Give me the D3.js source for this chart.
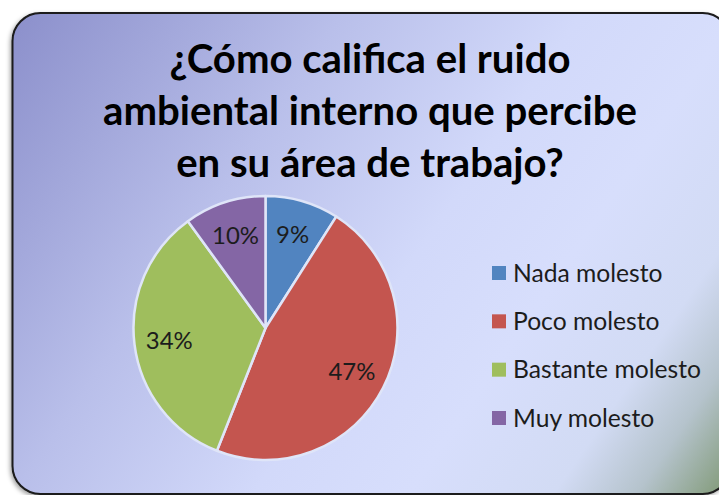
<!DOCTYPE html>
<html>
<head>
<meta charset="utf-8">
<script src="https://cdn.jsdelivr.net/npm/d3@7"></script>
<style>
  html, body { margin: 0; padding: 0; background: #fff; }
  svg { display: block; }
</style>
</head>
<body>
<svg id="chart" width="719" height="495"></svg>
<script>
// data
const categories = ["Nada molesto", "Poco molesto", "Bastante molesto", "Muy molesto"];
const values = [9, 47, 34, 10];
const colors = ["#5184c0", "#c4554f", "#9fbe5d", "#8466a5"];
const titleLines = ["¿Cómo califica el ruido", "ambiental interno que percibe", "en su área de trabajo?"];

const W = 719, H = 495;
const font = "Lato, 'Open Sans', sans-serif";
const svg = d3.select("#chart");

// fit a text's font size so it gets a given width
function fitText(sel, targetWidth) {
  let fs = parseFloat(sel.style("font-size"));
  let w = sel.node().getComputedTextLength();
  sel.style("font-size", (fs * targetWidth / w) + "px");
  return fs * targetWidth / w;
}

let defs = svg.append("defs");
let grad = defs.append("linearGradient")
  .attr("id", "bg")
  .attr("gradientUnits", "userSpaceOnUse")
  .attr("x1", 12).attr("y1", 12).attr("x2", 719).attr("y2", 495);
[[0, "#8b8fcb"], [0.32, "#b9bfea"], [0.55, "#d2d9fa"], [0.7, "#d7defc"], [0.84, "#d2dbf4"], [0.92, "#b5c3cc"], [1, "#849c7c"]]
  .forEach(s => grad.append("stop").attr("offset", s[0]).attr("stop-color", s[1]));

let shadow = defs.append("filter").attr("id", "shadow")
  .attr("x", "-5%").attr("y", "-5%").attr("width", "110%").attr("height", "110%");
shadow.append("feDropShadow")
  .attr("dx", -1.5).attr("dy", 2).attr("stdDeviation", 2)
  .attr("flood-color", "#000").attr("flood-opacity", 0.35);

// frame, its right side runs past the picture
svg.append("rect")
  .attr("x", 12.5).attr("y", 13)
  .attr("width", 718).attr("height", 481)
  .attr("rx", 28).attr("ry", 28)
  .attr("fill", "url(#bg)")
  .attr("stroke", "#1a1a1a")
  .attr("stroke-width", 2)
  .attr("filter", "url(#shadow)");

// title
let title = svg.append("g")
  .attr("font-family", font)
  .attr("font-weight", "bold")
  .attr("fill", "#000")
  .attr("text-anchor", "middle");
let titleY = d3.scalePoint().domain(d3.range(titleLines.length)).range([73, 177]);
let tl = title.selectAll("text").data(titleLines).join("text")
  .attr("x", 370)
  .attr("y", (d, i) => titleY(i))
  .style("font-size", "34px")
  .text(d => d);
let tfs = fitText(d3.select(tl.nodes()[1]), 534);
tl.style("font-size", tfs + "px");

// pie
const cx = 265.5, cy = 328, r = 132;
let pie = d3.pie().sort(null).value(d => d)(values);
let arc = d3.arc().innerRadius(0).outerRadius(r);
let labelArc = d3.arc().innerRadius(97).outerRadius(97);

let g = svg.append("g").attr("transform", `translate(${cx},${cy})`);
g.selectAll("path").data(pie).join("path")
  .attr("d", arc)
  .attr("fill", (d, i) => colors[i])
  .attr("stroke", "#dfe5f8")
  .attr("stroke-width", 2.5)
  .attr("stroke-linejoin", "round");

let labels = g.selectAll("text.lbl").data(pie).join("text")
  .attr("class", "lbl")
  .attr("transform", d => `translate(${labelArc.centroid(d)})`)
  .attr("text-anchor", "middle")
  .attr("dy", "0.35em")
  .attr("font-family", font)
  .attr("fill", "#1c1c1c")
  .style("font-size", "23px")
  .text(d => d.data + "%");
let lfs = fitText(d3.select(labels.nodes()[1]), 47);
labels.style("font-size", lfs + "px");

// legend
let legY = d3.scalePoint().domain(categories).range([273, 418]);
let leg = svg.append("g").attr("font-family", font);
let items = leg.selectAll("g").data(categories).join("g")
  .attr("transform", d => `translate(492,${legY(d)})`);
items.append("rect")
  .attr("x", 0).attr("y", -7)
  .attr("width", 14).attr("height", 14)
  .attr("fill", (d, i) => colors[i]);
let legText = items.append("text")
  .attr("x", 21)
  .attr("dy", "0.35em")
  .attr("fill", "#1c1c1c")
  .style("font-size", "22px")
  .text(d => d);
let gfs = fitText(d3.select(legText.nodes()[2]), 188);
legText.style("font-size", gfs + "px");
</script>
</body>
</html>
